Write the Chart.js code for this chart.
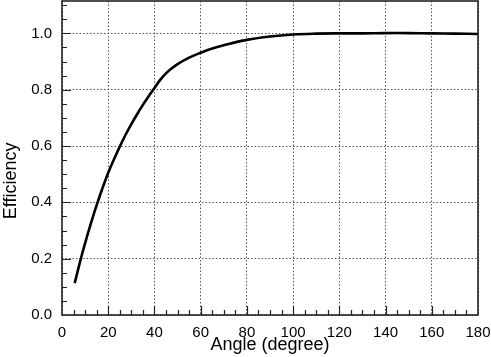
<!DOCTYPE html>
<html>
<head>
<meta charset="utf-8">
<script src="https://cdn.jsdelivr.net/npm/chart.js@4/dist/chart.umd.min.js"></script>
<style>
  body { margin: 0; background: #fff; }
  #wrap { width: 491px; height: 357px; }
</style>
</head>
<body>
<div id="wrap"><canvas id="eff" width="491" height="357"></canvas></div>
<script>
const angles = [5.5, 8, 10, 12.5, 15, 17.5, 20, 22.5, 25, 27.5, 30, 32.5, 35, 37.5, 40, 42.5, 45, 47.5,
  50, 55, 60, 65, 70, 80, 90, 100, 110, 120, 130, 140, 150, 160, 170, 180];
const efficiency = [0.113, 0.195, 0.255, 0.325, 0.39, 0.45, 0.505, 0.553, 0.598, 0.64, 0.678, 0.713, 0.746, 0.777, 0.806, 0.835, 0.858, 0.876,
  0.891, 0.914, 0.931, 0.946, 0.958, 0.977, 0.989, 0.996, 0.999, 1.0, 1.0, 1.001, 1.001, 1.0, 0.999, 0.998];
const xTicks = [0, 20, 40, 60, 80, 100, 120, 140, 160, 180];
const yTicks = [0, 0.2, 0.4, 0.6, 0.8, 1.0];
const yTitle = 'Efficiency';

// frame + inward minor/major ticks on left and bottom, y title sits a bit below centre
const frameTicks = {
  id: 'frameTicks',
  afterDatasetsDraw(chart) {
    const { ctx, chartArea: a, scales } = chart;
    ctx.save();
    ctx.strokeStyle = '#222';
    ctx.lineWidth = 1.2;
    ctx.beginPath();
    for (let v = 5; v < 180; v += 5) {
      const x = Math.round(scales.x.getPixelForValue(v)) + 0.5;
      const len = v % 20 === 0 ? 9 : 5;
      ctx.moveTo(x, a.bottom);
      ctx.lineTo(x, a.bottom - len);
    }
    for (let i = 1; i <= 22; i++) {
      const v = i * 0.05;
      const y = Math.round(scales.y.getPixelForValue(v)) + 0.5;
      const len = i % 4 === 0 ? 9 : 5;
      ctx.moveTo(a.left, y);
      ctx.lineTo(a.left + len, y);
    }
    ctx.stroke();
    ctx.lineWidth = 1.6;
    ctx.strokeRect(a.left, a.top, a.right - a.left, a.bottom - a.top);

    ctx.translate(15.5, scales.y.getPixelForValue(0.476));
    ctx.rotate(-Math.PI / 2);
    ctx.fillStyle = '#000';
    ctx.font = '18px "Liberation Sans"';
    ctx.textAlign = 'center';
    ctx.textBaseline = 'alphabetic';
    ctx.fillText(yTitle, 0, 0);
    ctx.restore();
  }
};

new Chart(document.getElementById('eff'), {
  type: 'line',
  data: {
    datasets: [{
      data: angles.map((a, i) => ({ x: a, y: efficiency[i] })),
      borderColor: '#000',
      borderWidth: 2.6,
      pointRadius: 0,
      tension: 0.4,
      fill: false
    }]
  },
  options: {
    responsive: false,
    animation: false,
    layout: { padding: { top: 1, right: 13, left: 0, bottom: 0 } },
    plugins: { legend: { display: false }, tooltip: { enabled: false } },
    scales: {
      x: {
        type: 'linear',
        min: 0,
        max: 180,
        afterBuildTicks: s => { s.ticks = xTicks.map(v => ({ value: v })); },
        afterFit: s => { s.height = 42; s.paddingLeft = 0; s.paddingRight = 0; },
        grid: { color: '#555', lineWidth: 1, drawTicks: false },
        border: { display: false, dash: [1.5, 2] },
        ticks: { color: '#000', padding: 9, maxRotation: 0, font: { family: 'Liberation Sans', size: 15 } },
        title: { display: true, text: 'Angle (degree)', color: '#000', padding: { top: 0, bottom: 1 },
          font: { family: 'Liberation Sans', size: 18 } }
      },
      y: {
        min: 0,
        max: 1.115,
        afterBuildTicks: s => { s.ticks = yTicks.map(v => ({ value: v })); },
        afterFit: s => { s.width = 62; s.paddingTop = 0; s.paddingBottom = 0; },
        grid: { color: '#555', lineWidth: 1, drawTicks: false },
        border: { display: false, dash: [1.5, 2] },
        ticks: { color: '#000', padding: 10, font: { family: 'Liberation Sans', size: 15 },
          callback: v => v.toFixed(1) }
      }
    }
  },
  plugins: [frameTicks]
});
</script>
</body>
</html>
